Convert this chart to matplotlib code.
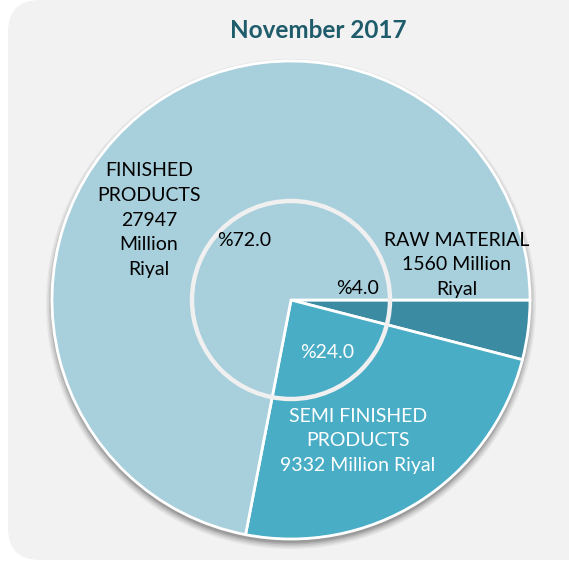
import matplotlib
matplotlib.use("Agg")
import matplotlib.pyplot as plt
from matplotlib.patches import FancyBboxPatch, Circle

categories = ["RAW MATERIAL", "SEMI FINISHED\nPRODUCTS", "FINISHED\nPRODUCTS"]
values = [1560, 9332, 27947]
colors = ["#3B8BA3", "#4AADC6", "#A8CFDC"]
title = "November 2017"

W, H = 569, 562
fig = plt.figure(figsize=(W / 100, H / 100), dpi=100)
ax = fig.add_axes([0, 0, 1, 1])
ax.set_xlim(0, W)
ax.set_ylim(0, H)
ax.axis("off")

def py(y):
    return H - y

# background rounded panel
bg = FancyBboxPatch((8, py(560)), 600, 560, boxstyle="round,pad=0,rounding_size=32",
                    fc="#F2F2F2", ec="none", zorder=0)
ax.add_patch(bg)

cx, cy, r = 291, py(300), 239
# drop shadow
for i, a in enumerate([0.05, 0.06, 0.08, 0.10, 0.12]):
    ax.add_patch(Circle((cx, cy - 4), r + 6 - i * 1.5, fc="black", alpha=a, ec="none", zorder=1))

wedges, _ = ax.pie(values, colors=colors, startangle=0, counterclock=False,
                   center=(cx, cy), radius=r, frame=True,
                   wedgeprops=dict(edgecolor="white", linewidth=2, zorder=2))
for w in wedges:
    w.set_zorder(2)
ax.set_xlim(0, W)
ax.set_ylim(0, H)
ax.set_aspect("equal")
ax.axis("off")

# inner ring
ax.add_patch(Circle((cx, cy), 99, fc="none", ec="#F0F0F0", lw=3.2, zorder=3))

total = sum(values)
pcts = [100 * v / total for v in values]

fam = ["Lato", "DejaVu Sans"]
fs = 14
ls = 1.55
ax.text(318, py(30), title, ha="center", va="center", fontsize=17.5, fontweight="bold",
        color="#1F5C6B", family=fam, zorder=5)

ax.text(149, py(220), f"FINISHED\nPRODUCTS\n{values[2]}\nMillion\nRiyal", ha="center", va="center",
        fontsize=fs, color="black", family=fam, linespacing=ls, zorder=5)
ax.text(244, py(240), f"%{pcts[2]:.1f}", ha="center", va="center", fontsize=fs, color="black",
        family=fam, zorder=5)
ax.text(457, py(265), f"{categories[0]}\n{values[0]} Million\nRiyal", ha="center", va="center",
        fontsize=fs, color="black", family=fam, linespacing=ls, zorder=5)
ax.text(358, py(289), f"%{pcts[0]:.1f}", ha="center", va="center", fontsize=fs, color="black",
        family=fam, zorder=5)
ax.text(327, py(353), f"%{pcts[1]:.1f}", ha="center", va="center", fontsize=fs, color="white",
        family=fam, zorder=5)
ax.text(358, py(441), f"SEMI FINISHED\nPRODUCTS\n{values[1]} Million Riyal", ha="center", va="center",
        fontsize=fs, color="white", family=fam, linespacing=ls, zorder=5)

fig.savefig("out.png", dpi=100)
